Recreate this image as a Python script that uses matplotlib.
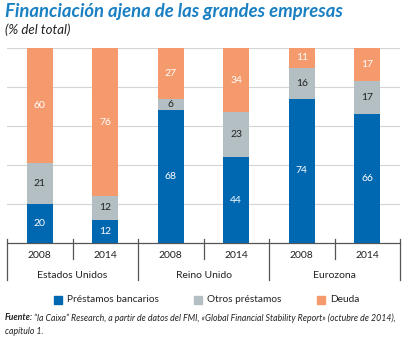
import matplotlib.pyplot as plt
import numpy as np

plt.rcParams['font.family'] = ['Lato', 'DejaVu Sans']

# data
years = ['2008', '2014', '2008', '2014', '2008', '2014']
countries = ['Estados Unidos', 'Reino Unido', 'Eurozona']
bancarios = [20, 12, 68, 44, 74, 66]
otros = [21, 12, 6, 23, 16, 17]
deuda = [60, 76, 27, 34, 11, 17]
series_names = ['Préstamos bancarios', 'Otros préstamos', 'Deuda']

c_blue = '#0067b1'
c_grey = '#b4bfc3'
c_orange = '#f49a6c'

fig = plt.figure(figsize=(4.07, 3.38), dpi=100)
ax = fig.add_axes([7/407, 95/338, 393/407, 195/338])

x = np.arange(len(years))
w = 0.4
b1 = np.array(bancarios)
b2 = np.array(otros)
b3 = np.array(deuda)

ax.bar(x, b1, w, color=c_blue, zorder=3)
ax.bar(x, b2, w, bottom=b1, color=c_grey, zorder=3)
ax.bar(x, b3, w, bottom=b1 + b2, color=c_orange, zorder=3)

for i in range(len(x)):
    ax.text(x[i], b1[i] / 2, str(b1[i]), ha='center', va='center', color='white', fontsize=7.5, zorder=4)
    ax.text(x[i], b1[i] + b2[i] / 2, str(b2[i]), ha='center', va='center', color='#222222', fontsize=7.5, zorder=4)
    top = min(b1[i] + b2[i] + b3[i], 100)
    ax.text(x[i], (b1[i] + b2[i] + top) / 2, str(b3[i]), ha='center', va='center', color='white', fontsize=7.5, zorder=4)

ax.set_xlim(-0.5, 5.5)
ax.set_ylim(0, 100)
for g in [20, 40, 60, 80, 100]:
    ax.axhline(g, color='#d4d4d4', lw=0.8, zorder=1)
for s in ax.spines.values():
    s.set_visible(False)
ax.set_xticks([])
ax.set_yticks([])

trans = ax.get_xaxis_transform()
ax.plot([-0.5, 5.5], [0, 0], color='#555555', lw=0.9, transform=trans, clip_on=False)
# separators
for k in range(7):
    xs = k - 0.5
    if k % 2 == 0:
        ax.plot([xs, xs], [0.02, -0.19], color='#555555', lw=0.9, transform=trans, clip_on=False)
    else:
        ax.plot([xs, xs], [0.02, -0.08], color='#555555', lw=0.9, transform=trans, clip_on=False)

for i, yr in enumerate(years):
    ax.text(x[i], -0.062, yr, ha='center', va='center', fontsize=7.5, color='#222222', transform=trans)
for j, c in enumerate(countries):
    ax.text(2 * j + 0.5, -0.168, c, ha='center', va='center', fontsize=7.5, color='#222222', transform=trans)

# legend
leg_x = [54, 194, 317]
for lx, name, col in zip(leg_x, series_names, [c_blue, c_grey, c_orange]):
    fig.patches.append(plt.Rectangle((lx / 407, 1 - 303.5 / 338), 8 / 407, 8 / 338,
                                     transform=fig.transFigure, color=col))
    fig.text((lx + 13) / 407, 1 - 299 / 338, name, ha='left', va='center', fontsize=7.3, color='#222222')

fig.text(5 / 407, 1 - 11 / 338, 'Financiación ajena de las grandes empresas', ha='left', va='center',
         fontsize=13.3, fontweight='bold', fontstyle='italic', color='#1a80c4')
fig.text(5 / 407, 1 - 30 / 338, '(% del total)', ha='left', va='center',
         fontsize=9.5, fontstyle='italic', color='#222222')

fig.text(5 / 407, 1 - 318 / 338, 'Fuente:', ha='left', va='center', fontsize=6.3,
         fontweight='bold', fontstyle='italic', color='#222222')
fig.text(34 / 407, 1 - 318 / 338,
         '“la Caixa” Research, a partir de datos del FMI, «Global Financial Stability Report» (octubre de 2014),',
         ha='left', va='center', fontsize=6.3, fontstyle='italic', color='#222222')
fig.text(5 / 407, 1 - 331 / 338, 'capítulo 1.', ha='left', va='center', fontsize=6.3,
         fontstyle='italic', color='#222222')

fig.savefig('out.png', dpi=100)
